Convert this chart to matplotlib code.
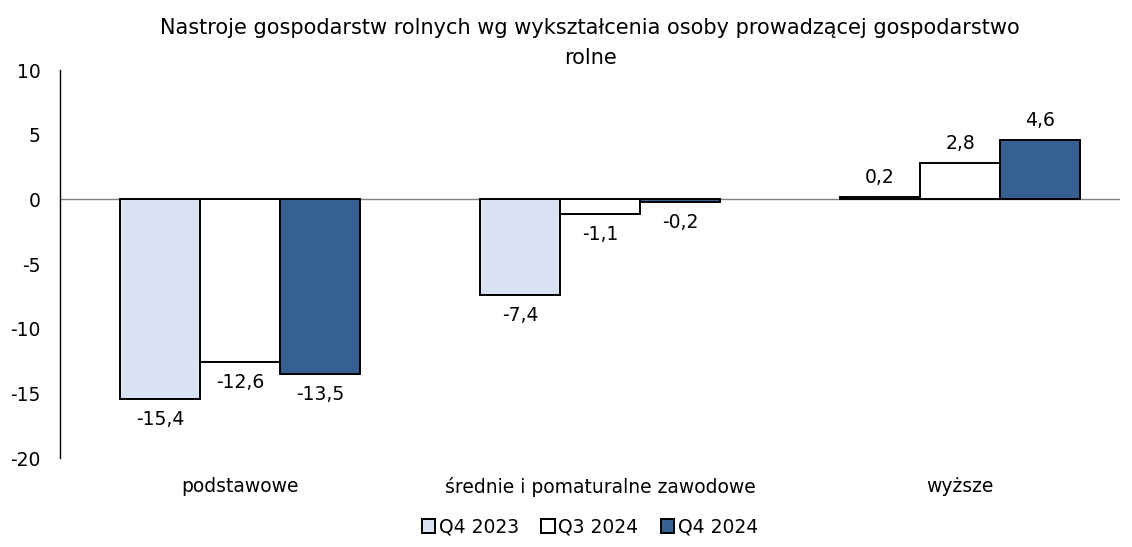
import matplotlib.pyplot as plt
import numpy as np

# categories and series values
categories = ['podstawowe', 'średnie i pomaturalne zawodowe', 'wyższe']
series_names = ['Q4 2023', 'Q3 2024', 'Q4 2024']
q4_2023 = [-15.4, -7.4, 0.2]
q3_2024 = [-12.6, -1.1, 2.8]
q4_2024 = [-13.5, -0.2, 4.6]
colors = ['#dae3f3', '#ffffff', '#376092']

plt.rcParams['font.family'] = ['DejaVu Sans']
plt.rcParams['axes.unicode_minus'] = False

fig = plt.figure(figsize=(11.32, 5.47), dpi=100)
ax = fig.add_axes([60 / 1132, 1 - 458 / 547, 1060 / 1132, 388 / 547])

x = np.arange(len(categories))
width = 80 / 360
fs = 13.5

for i, (vals, col, name) in enumerate(zip([q4_2023, q3_2024, q4_2024], colors, series_names)):
    pos = x + (i - 1) * width
    bars = ax.bar(pos, vals, width, color=col, edgecolor='black', linewidth=1.4, label=name, zorder=3)
    for b, v in zip(bars, vals):
        label = f'{v:.1f}'.replace('.', ',')
        if v >= 0:
            ax.annotate(label, (b.get_x() + b.get_width() / 2, v), xytext=(0, 7),
                        textcoords='offset points', ha='center', va='bottom', fontsize=fs)
        else:
            ax.annotate(label, (b.get_x() + b.get_width() / 2, v), xytext=(0, -8),
                        textcoords='offset points', ha='center', va='top', fontsize=fs)

ax.axhline(0, color='#808080', linewidth=1, zorder=2)
ax.set_ylim(-20, 10)
ax.set_yticks([-20, -15, -10, -5, 0, 5, 10])
ax.set_xlim(-0.5, 2.444)
ax.set_xticks(x)
ax.set_xticklabels(categories, fontsize=fs)
ax.tick_params(axis='x', length=0, pad=14)
ax.tick_params(axis='y', length=0, pad=14, labelsize=fs)
for s in ['top', 'right', 'bottom']:
    ax.spines[s].set_visible(False)
ax.spines['left'].set_color('black')
ax.spines['left'].set_linewidth(1)

fig.text(590 / 1132, 1 - 43 / 547, 'Nastroje gospodarstw rolnych wg wykształcenia osoby prowadzącej gospodarstwo\nrolne',
         ha='center', va='center', fontsize=15, linespacing=1.6)

fig.legend(loc='center', bbox_to_anchor=(590 / 1132, 1 - 527 / 547), ncol=3, frameon=False,
           fontsize=fs, handlelength=0.7, handleheight=0.7, handletextpad=0.2, columnspacing=1.2)

fig.savefig('out.png', dpi=100)
